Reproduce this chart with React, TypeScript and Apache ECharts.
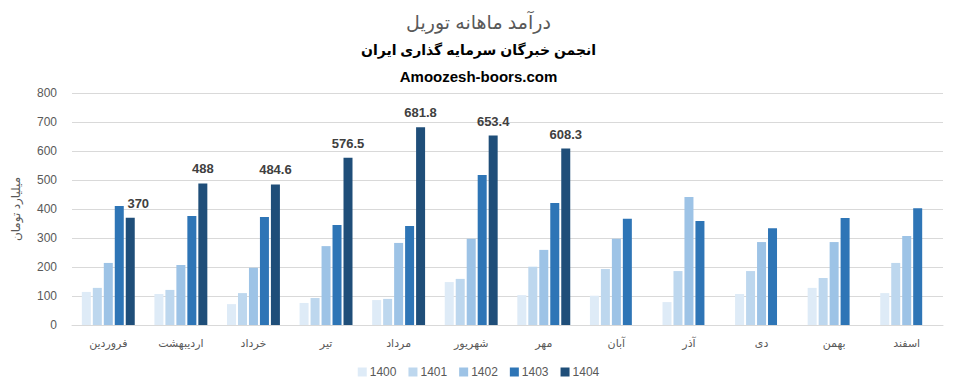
import React, { useEffect, useRef } from "react";
import * as echarts from "echarts";

const categories = ["فروردین", "اردیبهشت", "خرداد", "تیر", "مرداد", "شهریور", "مهر", "آبان", "آذر", "دی", "بهمن", "اسفند"];
const seriesNames = ["1400", "1401", "1402", "1403", "1404"];
const v1400 = [114, 107, 72, 76, 86, 148, 103, 101, 79, 107, 128, 110];
const v1401 = [128, 121, 110, 93, 90, 159, 201, 193, 186, 186, 162, 214];
const v1402 = [214, 207, 197, 272, 283, 297, 259, 297, 441, 286, 286, 307];
const v1403 = [410, 376, 372, 345, 341, 517, 421, 366, 359, 334, 369, 403];
const v1404 = [370, 488, 484.6, 576.5, 681.8, 653.4, 608.3, null, null, null, null, null];
const yTicks = { min: 0, max: 800, interval: 100 };
const colors = ["#DEEBF7", "#BDD7EE", "#9DC3E6", "#2E75B6", "#1F4E79"];

const FONT = "'Liberation Sans', 'DejaVu Sans', 'Noto Sans', sans-serif";

export default function App() {
  const ref = useRef<HTMLDivElement>(null);
  useEffect(() => {
    document.body.style.margin = "0";
    const chart = echarts.init(ref.current!, null, { renderer: "svg" });
    const values = [v1400, v1401, v1402, v1403, v1404];
    chart.setOption({
      animation: false,
      backgroundColor: "#ffffff",
      color: colors,
      textStyle: { fontFamily: FONT },
      title: [
        {
          text: "درآمد ماهانه توریل",
          left: "center",
          top: 8,
          textStyle: { fontFamily: FONT, fontSize: 19, fontWeight: "normal", color: "#595959" },
        },
        {
          text: "انجمن خبرگان سرمایه گذاری ایران",
          left: "center",
          top: 38,
          textStyle: { fontFamily: FONT, fontSize: 14, fontWeight: "bold", color: "#000000" },
        },
        {
          text: "Amoozesh-boors.com",
          left: "center",
          top: 64,
          textStyle: { fontFamily: FONT, fontSize: 15, fontWeight: "bold", color: "#000000" },
        },
      ],
      legend: {
        bottom: 8,
        left: "center",
        itemWidth: 9,
        itemHeight: 9,
        itemGap: 12,
        icon: "rect",
        textStyle: { fontFamily: FONT, fontSize: 12, color: "#595959", padding: [0, 0, 0, -2] },
        data: seriesNames,
      },
      grid: { left: 72, right: 14, top: 93, bottom: 66 },
      xAxis: {
        type: "category",
        data: categories,
        axisLine: { lineStyle: { color: "#d9d9d9" } },
        axisTick: { show: false },
        axisLabel: { fontFamily: FONT, fontSize: 11, color: "#595959", margin: 12 },
      },
      yAxis: {
        type: "value",
        min: yTicks.min,
        max: yTicks.max,
        interval: yTicks.interval,
        name: "میلیارد تومان",
        nameLocation: "middle",
        nameRotate: 90,
        nameGap: 50,
        nameTextStyle: { fontFamily: FONT, fontSize: 12, color: "#595959" },
        axisLine: { show: false },
        axisTick: { show: false },
        axisLabel: { fontFamily: FONT, fontSize: 12, color: "#595959", margin: 15 },
        splitLine: { lineStyle: { color: "#d9d9d9", width: 1 } },
      },
      series: seriesNames.map((name, i) => ({
        name,
        type: "bar",
        data:
          i === 4
            ? values[i].map((v, j) => (j === 0 ? { value: v, label: { offset: [8, 0] } } : v))
            : values[i],
        barWidth: 9,
        barGap: "22%",
        itemStyle: { color: colors[i] },
        label:
          i === 4
            ? {
                show: true,
                position: "top",
                distance: 8,
                fontFamily: FONT,
                fontSize: 13,
                fontWeight: "bold",
                color: "#404040",
              }
            : { show: false },
      })),
    });
    return () => chart.dispose();
  }, []);
  return <div ref={ref} style={{ width: 957, height: 391 }} />;
}
